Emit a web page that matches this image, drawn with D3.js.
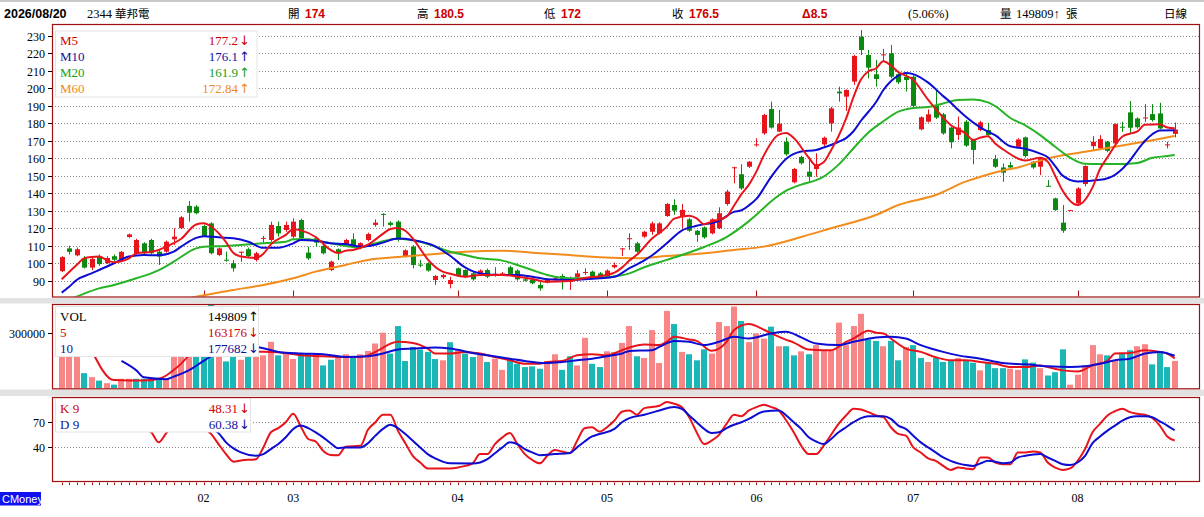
<!DOCTYPE html>
<html>
<head>
<meta charset="utf-8">
<script src="https://cdn.jsdelivr.net/npm/d3@7"></script>
<style>
body { margin: 0; background: #fff; overflow: hidden; }
svg { display: block; }
</style>
</head>
<body>
<svg width="1204" height="517"></svg>
<script>
// daily candles, 2344 華邦電
const opens = [
  95.5, 108.5, 104.5, 103, 97.5, 104, 100, 104, 102, 115,
  105.7, 111.4, 113.3, 106.6, 106.6, 113.7, 120, 132.8, 132.4, 121.3,
  122.8, 104.7, 102, 100, 106, 108, 101.9, 114, 113.3, 121.3,
  119, 115.2, 124.7, 106.1, 114.3, 109.9, 96.1, 108, 111, 113.7,
  109, 113.3, 121.9, 128.2, 123.2, 123.8, 103.8, 109.5, 99.2, 100,
  90.4, 92, 88.1, 97.1, 96.1, 94.2, 93.9, 96.1, 93, 93.5,
  97.7, 95.8, 90.8, 90.4, 87.6, 88.9, 90.4, 92.7, 89.5, 92,
  94.5, 95.2, 94.2, 92.3, 97.7, 108.3, 114, 111.4, 115.2, 118,
  117.1, 127, 133.3, 126.7, 125.1, 118.6, 120.5, 117.1, 120, 133.9,
  154.6, 150.9, 155.2, 167.8, 174.3, 188.2, 175.3, 169.5, 146.3, 160.8,
  152.4, 153.9, 168, 180, 198.2, 195.3, 203.9, 229.6, 219.1, 208.1,
  219.3, 220.1, 208.1, 206.7, 206.7, 176.6, 181, 190.5, 185.2, 177.6,
  173.4, 181, 170.5, 176.2, 176.2, 159.6, 154.8, 156.1, 166.6, 172,
  158, 155.2, 144.3, 137.1, 123.2, 130.3, 134.2, 145.3, 167, 165.7,
  169.5, 168.5, 178.1, 186.3, 182.8, 183.2, 185.3, 185.7, 167.4, 174
]
const highs = [
  104, 110, 109, 104, 104, 105, 104, 105, 107, 117,
  114, 112, 114, 107.5, 113, 120, 127, 135.6, 133.3, 122,
  123.5, 109, 106.6, 101.9, 106.6, 109, 106.5, 115.6, 123.8, 123.8,
  123.8, 125.7, 125.5, 109.5, 115.2, 110.5, 101.5, 108.5, 114, 117.1,
  112, 117.5, 125.1, 128.6, 124, 124.5, 108, 110.4, 101.9, 100.5,
  93.3, 94, 92.3, 97.5, 96.5, 95, 96.5, 97, 97.7, 95,
  98.5, 96.5, 91.5, 91, 89.5, 91, 92, 93.9, 92.3, 96.1,
  97.1, 95.8, 95, 96.5, 100.4, 108.6, 117.1, 112.3, 118.5, 123.8,
  123.5, 134.5, 136.6, 133.9, 126, 119, 121, 125.7, 132, 142,
  155.2, 156.6, 158.5, 171.5, 185.5, 192.4, 187.7, 172, 154.5, 161.5,
  159.1, 162.9, 172.5, 189.5, 201, 199.5, 219.2, 233.4, 222, 216.3,
  222.6, 224.9, 209, 208.6, 207.5, 184, 188, 199.1, 186, 178,
  183.9, 182, 171, 181.5, 180.4, 161.9, 157.1, 158, 171.5, 172.5,
  158.5, 160.3, 147.6, 137.5, 133.3, 130.5, 143.5, 156, 172.7, 173.3,
  170, 180, 180.9, 192.8, 183.5, 191, 191, 191.8, 169.5, 180.5
]
const lows = [
  95, 105, 104, 97, 96, 98.5, 99.5, 101, 101.5, 114.5,
  105, 105, 105, 99, 106, 110.4, 119.5, 123.8, 128, 115,
  105, 104, 100.9, 95.2, 100.9, 103.5, 101, 111.4, 112.3, 115.2,
  118, 114.3, 113.5, 101.9, 109.5, 105, 95.5, 101.9, 110.5, 109.5,
  108, 112.5, 120.9, 121, 121, 112.5, 103.4, 97.1, 97.7, 95.2,
  87.6, 91, 85.6, 92.5, 91.5, 90, 93, 91.5, 92.3, 93,
  93, 90, 89.5, 88, 84.3, 88.5, 90, 85, 84.7, 91.5,
  93.3, 92, 91.5, 92, 97, 104.1, 107.6, 106, 114.5, 116.2,
  116.5, 126.5, 127.6, 120, 118, 112.3, 114, 116.5, 119.5, 133,
  145.7, 142, 154.5, 166.7, 173.5, 177, 175, 161.5, 145.7, 156.5,
  146.7, 149.5, 167, 175.3, 192.4, 187.1, 202, 219.1, 205.8, 201,
  215.3, 205.8, 202.5, 198.2, 189, 176, 180.5, 182.5, 173.5, 165.7,
  170.5, 166.5, 156.6, 175.5, 172.5, 154.5, 146.6, 153.3, 166, 160.5,
  154, 150.4, 144.1, 130, 117.4, 130.2, 133.5, 144, 164.7, 165,
  163.5, 168, 175.2, 174.3, 177, 180.9, 181, 176.5, 165.7, 172
]
const closes = [
  103.5, 106.5, 108, 97.5, 102.5, 99.5, 103, 102, 106.5, 116.5,
  113.3, 105.7, 105.7, 103.8, 112.3, 115.2, 126.3, 128.9, 128.6, 115.6,
  105.7, 108.5, 101.9, 97.1, 106.6, 104.1, 105.7, 114.5, 121.9, 117.1,
  121.9, 123.8, 114.3, 102.8, 111.8, 105.7, 100.9, 106.1, 113.3, 110.4,
  111.5, 116.7, 123.2, 128, 121.9, 113.3, 107.4, 99, 99, 95.8,
  92.7, 93.3, 90.4, 93.3, 92.3, 90.8, 95.8, 92.3, 94, 94.2,
  93.9, 90.8, 90, 88.5, 85.6, 90.4, 91.4, 90.8, 89.9, 94.2,
  95, 92.3, 92, 95.8, 99, 108.5, 114.3, 106.6, 118, 122.8,
  122.8, 133.9, 130.1, 130.5, 118.6, 116.2, 114.8, 125.1, 128.6, 141,
  154.9, 142.8, 158.1, 168, 184.8, 177.6, 179.8, 162.3, 153.9, 157.2,
  149.5, 156.6, 171.8, 188.6, 197.2, 199.1, 218.6, 222, 211.9, 205.4,
  219.5, 206.7, 203.5, 204.8, 190, 183.5, 185.2, 183.3, 174.3, 169.2,
  177.6, 167.3, 164.8, 180.6, 173.4, 155.2, 151.8, 154.8, 170.8, 161.3,
  154.8, 159.6, 144.1, 130.4, 118.6, 130.4, 142.8, 155.6, 169.5, 171,
  164.3, 179.6, 178, 177.5, 177.8, 183.4, 181.9, 177.1, 168, 176.5
]
const volumes = [
  300000, 300000, 290000, 83000, 61000, 42000, 28000, 20000, 52000, 52000,
  52000, 52000, 52000, 52000, 52000, 270000, 260000, 266000, 320000, 330000,
  456000, 220000, 147000, 200000, 156000, 190000, 200000, 180000, 254000, 180000,
  193000, 160000, 190000, 190000, 190000, 125000, 156000, 167000, 186000, 171000,
  186000, 204000, 245000, 304000, 190000, 340000, 149000, 226000, 212000, 199000,
  160000, 153000, 252000, 208000, 190000, 171000, 190000, 144000, 162000, 101000,
  156000, 134000, 116000, 120000, 107000, 149000, 186000, 101000, 175000, 125000,
  276000, 134000, 116000, 202000, 199000, 248000, 340000, 175000, 166000, 318000,
  138000, 423000, 351000, 199000, 186000, 153000, 213000, 190000, 362000, 340000,
  447000, 368000, 252000, 300000, 272000, 337000, 230000, 230000, 180000, 202000,
  186000, 236000, 208000, 208000, 359000, 236000, 340000, 407000, 267000, 259000,
  230000, 259000, 153000, 226000, 236000, 166000, 144000, 166000, 144000, 153000,
  166000, 153000, 140000, 98000, 138000, 110000, 110000, 107000, 101000, 158000,
  140000, 110000, 70000, 88000, 213000, 20000, 75000, 125000, 236000, 186000,
  180000, 153000, 193000, 208000, 230000, 241000, 131000, 193000, 116000, 149809
]

// moving averages: [candle index, value]
const ma5 = [[0, 90.8], [2, 99], [3, 102.8], [4, 103.6], [5, 103.8], [6, 101.9], [7, 100.6], [9, 102.8], [10, 105.7], [12, 106.6], [13, 107.6], [14, 109.5], [16, 114], [18, 122.2], [19, 122.9], [20, 121], [22, 112.1], [23, 105.8], [24, 103.8], [26, 103], [27, 105.4], [28, 110.8], [30, 116.2], [31, 119.4], [32, 118.8], [34, 115], [36, 107.6], [37, 105.8], [38, 107.2], [39, 107.6], [41, 110.6], [43, 116.8], [44, 119.6], [45, 120.2], [46, 118.6], [47, 114.2], [48, 108.2], [49, 102.2], [51, 95.2], [52, 94], [54, 92.3], [56, 93.3], [59, 93.3], [61, 92.3], [63, 91], [65, 89.4], [68, 89.8], [70, 91.6], [72, 92.6], [74, 94.6], [75, 97.5], [76, 101.5], [77, 104.8], [79, 114], [81, 120.8], [82, 125.5], [84, 127.2], [85, 125.7], [86, 122.3], [87, 123.8], [89, 126.7], [90, 132.9], [91, 139.5], [92, 145], [93, 152.4], [94, 161.7], [96, 173.6], [97, 174.5], [98, 171.6], [100, 160.5], [101, 155.9], [102, 157.8], [103, 164.7], [104, 172.7], [105, 182.7], [106, 195.1], [107, 205.1], [108, 209.8], [109, 211.4], [110, 215.5], [111, 213.1], [112, 209.4], [114, 204.9], [116, 193.4], [118, 183.3], [119, 179.1], [121, 174.3], [122, 170.6], [123, 171.9], [124, 172.7], [125, 168.3], [126, 165.2], [129, 158.8], [131, 160.3], [132, 158.1], [133, 150], [134, 141.5], [136, 133.3], [138, 143.4], [139, 153.9], [140, 160.6], [142, 172.5], [143, 174.1], [144, 175.4], [145, 179.2], [147, 179.5], [148, 177.6], [149, 177.2]]
const ma10 = [[0, 83.2], [1, 86.6], [2, 90.4], [4, 94.2], [6, 98], [7, 100], [9, 103.8], [11, 104.7], [13, 104.5], [15, 106.6], [16, 109.5], [18, 114.5], [19, 115.5], [21, 114.8], [23, 114.3], [25, 112.3], [27, 108.8], [29, 108.8], [31, 111.4], [32, 113.3], [34, 112.9], [36, 111.4], [38, 111], [40, 109.5], [41, 109.8], [43, 111.8], [45, 114.1], [47, 113.3], [48, 112.4], [50, 109.7], [52, 104.3], [54, 97.6], [56, 94.2], [59, 93.3], [61, 93.3], [63, 92.3], [65, 90.8], [68, 90.4], [70, 90.8], [72, 91.4], [74, 92.3], [76, 97.2], [78, 101.6], [79, 104.4], [81, 111.4], [83, 118.7], [85, 121.4], [88, 124.3], [90, 129.4], [91, 130.3], [92, 133.1], [93, 136.8], [95, 149.6], [97, 159.8], [99, 163.9], [101, 164.8], [102, 166.2], [104, 169.5], [105, 171.6], [106, 175.5], [107, 181.5], [109, 192.1], [110, 199.1], [111, 204.1], [112, 207.3], [113, 208.9], [114, 208.2], [116, 203.3], [118, 195.6], [119, 192], [120, 187.8], [121, 183.9], [123, 177.6], [125, 173.1], [127, 166.9], [129, 165.5], [131, 162.7], [132, 160.6], [133, 155.6], [134, 150.1], [136, 146.8], [139, 147.7], [141, 150.6], [143, 158.7], [144, 164.6], [145, 169.9], [146, 173.8], [147, 176], [149, 176.1]]
const ma20 = [[0, 77.5], [2, 80.9], [5, 85.6], [7, 87.6], [10, 91.4], [13, 96.1], [15, 100.9], [18, 108.5], [19, 109.5], [22, 109.9], [24, 110.4], [27, 111.4], [30, 112.3], [31, 113.7], [33, 113.7], [35, 112.3], [38, 109.9], [40, 109.1], [42, 111.4], [45, 114], [48, 112.3], [52, 106.6], [54, 104.7], [56, 102.8], [59, 101.5], [61, 99], [63, 96.1], [65, 93.3], [68, 91.4], [70, 91.4], [73, 92], [76, 94.2], [78, 97.7], [81, 101.9], [83, 104.7], [86, 109.3], [89, 115], [92, 124.1], [93, 127.7], [95, 135.5], [97, 141.5], [99, 145], [101, 147.5], [102, 149.6], [104, 156.4], [106, 165.8], [108, 174.8], [110, 181.2], [112, 186.7], [114, 188.8], [116, 189.4], [118, 191.4], [120, 193.4], [122, 193.6], [124, 192], [125, 189.8], [127, 183.1], [129, 178.9], [131, 173.3], [133, 166.6], [135, 160.4], [137, 156.9], [139, 156.7], [141, 156.7], [144, 157.4], [146, 160.3], [148, 161.3], [149, 161.9]]
const ma60 = [[14, 77.5], [18, 80.9], [23, 84.7], [27, 87.6], [31, 91.4], [34, 95.2], [38, 99], [41, 101.9], [45, 103.5], [50, 105.3], [54, 106.6], [59, 107.2], [63, 106], [68, 104.7], [72, 103.4], [77, 102.8], [81, 104.1], [85, 105.3], [90, 107.6], [94, 109.5], [99, 115], [103, 120], [109, 127.6], [112, 133.3], [117, 139], [121, 146.7], [123, 149.5], [126, 153], [128, 154.8], [132, 160], [137, 163.8], [141, 166.6], [146, 170.4], [149, 172.84]]

const vol5 = [[4, 208000], [7, 45000], [11, 42000], [13, 52000], [14, 70000], [15, 100000], [16, 135000], [17, 180000], [18, 234000], [20, 326000], [22, 295000], [24, 236000], [26, 200000], [28, 199000], [30, 193000], [32, 180000], [35, 175000], [37, 171000], [40, 171000], [41, 180000], [42, 199000], [45, 254000], [47, 248000], [49, 217000], [50, 190000], [52, 190000], [54, 199000], [56, 190000], [58, 171000], [60, 153000], [62, 134000], [64, 134000], [65, 144000], [67, 149000], [69, 180000], [71, 186000], [73, 180000], [75, 208000], [76, 223000], [78, 240000], [80, 236000], [81, 254000], [82, 282000], [84, 267000], [85, 259000], [87, 205000], [89, 254000], [90, 318000], [92, 351000], [94, 320000], [95, 300000], [97, 265000], [98, 250000], [100, 212000], [102, 208000], [103, 208000], [105, 254000], [106, 272000], [108, 315000], [109, 304000], [110, 300000], [111, 272000], [113, 217000], [115, 199000], [117, 170000], [119, 153000], [121, 153000], [123, 144000], [125, 134000], [127, 116000], [129, 116000], [131, 125000], [132, 116000], [134, 98000], [136, 92000], [138, 125000], [140, 150000], [141, 190000], [143, 193000], [145, 208000], [147, 199000], [148, 190000], [149, 163176]]
const vol10 = [[8, 150000], [10, 98000], [11, 60000], [14, 50000], [15, 64000], [17, 98000], [19, 150000], [21, 200000], [23, 230000], [26, 226000], [29, 199000], [32, 190000], [35, 186000], [38, 171000], [41, 175000], [43, 190000], [45, 212000], [47, 217000], [50, 223000], [52, 217000], [55, 193000], [57, 180000], [60, 162000], [62, 149000], [65, 138000], [67, 144000], [69, 153000], [71, 162000], [73, 175000], [75, 190000], [76, 204000], [79, 208000], [80, 226000], [82, 259000], [84, 254000], [86, 236000], [88, 254000], [90, 282000], [92, 272000], [95, 300000], [97, 309000], [99, 278000], [101, 245000], [104, 236000], [106, 254000], [109, 278000], [111, 282000], [113, 272000], [115, 236000], [118, 199000], [120, 180000], [123, 162000], [126, 138000], [129, 131000], [132, 120000], [135, 116000], [137, 120000], [139, 134000], [141, 153000], [143, 162000], [145, 190000], [147, 199000], [149, 177682]]

const kLine = [[0, 72], [2, 78], [4, 75], [6, 70], [8, 66], [10, 68], [11, 63], [12, 58], [13, 46], [14, 57], [15, 66], [17, 74], [18, 76], [19, 64], [20, 56], [21, 44], [22, 32], [23, 23], [24, 24.5], [26, 26], [27, 40], [28, 58], [29, 63], [30, 70], [31, 80], [32, 65], [33, 50], [34, 47], [35, 36], [36, 31], [37, 30.8], [38, 40.8], [40, 42], [41, 61], [42, 70], [43, 78.8], [44, 78.8], [45, 60], [46, 45], [47, 30], [48, 22], [49, 15], [52, 15], [54, 18], [55, 21], [56, 32], [57, 32], [58, 44], [59, 52], [60, 57], [61, 44], [62, 32], [63, 25], [64, 21], [65, 30], [66, 37], [67, 35], [68, 33], [69, 48], [70, 62.8], [71, 64], [72, 58.8], [73, 64], [74, 72], [75, 82.5], [76, 84], [77, 79], [78, 86.8], [80, 89.5], [81, 94], [82, 92], [83, 88], [84, 76], [85, 58], [86, 44], [87, 48], [88, 55], [89, 68], [90, 78.8], [91, 77.2], [92, 84], [93, 88], [94, 90.8], [95, 88], [96, 84], [97, 72], [98, 58], [99, 42], [100, 32], [101, 32], [102, 42], [103, 55], [104, 68], [105, 78], [106, 86], [107, 85], [108, 82], [109, 78], [110, 76], [111, 64], [112, 56], [113, 54], [114, 40], [115, 34], [116, 27], [117, 24], [118, 18], [119, 13.2], [120, 16], [121, 15], [122, 14], [123, 28], [124, 28], [125, 22], [126, 20], [127, 20], [128, 34], [129, 34], [130, 35], [131, 34], [132, 22], [133, 16], [134, 13.2], [135, 15], [136, 24], [137, 38], [138, 58], [139, 68], [140, 78], [141, 83], [142, 86], [143, 82], [144, 80], [145, 78.8], [146, 75], [147, 66], [148, 53], [149, 48.31]]
const dLine = [[0, 70], [4, 72], [8, 70], [12, 67], [14, 63], [16, 64], [18, 68], [19, 67], [20, 63], [21, 57], [22, 46], [23, 38.8], [24, 34], [26, 30], [27, 32], [28, 38], [29, 44], [30, 52], [31, 62], [32, 66], [33, 63], [34, 58], [35, 52], [36, 45], [37, 39], [38, 40], [40, 40], [41, 45], [42, 54], [43, 62], [44, 67], [45, 63], [46, 56], [47, 48], [48, 40], [49, 32], [50, 27], [52, 21], [55, 20.8], [57, 26], [58, 33], [59, 40], [60, 46], [61, 44], [62, 38], [63, 34], [64, 30.8], [66, 32], [68, 33.2], [69, 40], [70, 47], [71, 53], [72, 56], [74, 62], [75, 70], [76, 74.8], [78, 78.8], [80, 84], [82, 88], [83, 86], [84, 78], [85, 70], [86, 62], [87, 57.2], [88, 58], [89, 63], [90, 67], [91, 70], [92, 74], [94, 82.8], [96, 84], [97, 78], [98, 70], [99, 62], [100, 52], [101, 47], [102, 44], [103, 50], [104, 58], [105, 64], [106, 70], [107, 74.8], [108, 77], [110, 77], [111, 74], [112, 66], [113, 62], [114, 54], [115, 46], [116, 40], [117, 34], [118, 28], [119, 24], [120, 21], [121, 19], [122, 18], [123, 21], [124, 24], [125, 23], [126, 21.2], [127, 22], [128, 28], [129, 30], [131, 32], [132, 28], [133, 24], [134, 20], [135, 19], [136, 22], [137, 30], [138, 45], [139, 53], [140, 60], [141, 66], [142, 72], [143, 76], [144, 77.2], [145, 77], [146, 76], [147, 71], [148, 66], [149, 60.38]]

const monthLabels = ['02', '03', '04', '05', '06', '07', '08']
const monthStarts = [19, 31, 53, 73, 93, 114, 136]
const priceTicks = [90, 100, 110, 120, 130, 140, 150, 160, 170, 180, 190, 200, 210, 220, 230]
const volTicks = [300000]
const kdTicks = [40, 70]

const serif = '"Liberation Serif", "DejaVu Serif", serif'
const sans = '"Liberation Sans", Arial, sans-serif'
const cjk = '"Noto Sans CJK TC", "Noto Sans CJK SC", sans-serif'
const RED = '#e8141c', GREEN = '#0c8a10', BLUE = '#0c0cd2', LIME = '#26b426', ORANGE = '#f28c1c'
const PINK = '#f98686', CYAN = '#1bb6b6', FRAME = '#a01010'

const left = 52, right = 1200
const mainTop = 24, mainBottom = 296.5
const volTop = 304, volBottom = 388.3
const kdTop = 397, kdBottom = 481

const svg = d3.select('svg')

const x = d3.scaleBand().domain(d3.range(closes.length)).range([57.2, 1179.2]).padding(0.2)
const cx = i => x(i) + x.bandwidth() / 2
const y = d3.scaleLinear().domain([80.97, 236.86]).range([mainBottom, mainTop])
const yVol = d3.scaleLinear().domain([0, 460700]).range([volBottom, volTop])
const yKd = d3.scaleLinear().domain([0, 100]).range([kdBottom, kdTop])

svg.append('rect').attr('width', 1204).attr('height', 517).attr('fill', '#fff')
svg.append('rect').attr('x', 0).attr('y', 0).attr('width', 1204).attr('height', 2).attr('fill', '#c8c8c8')
svg.append('rect').attr('x', 0).attr('y', 298).attr('width', 1204).attr('height', 5.5).attr('fill', '#e2e2e2')
svg.append('rect').attr('x', 0).attr('y', 389.5).attr('width', 1204).attr('height', 6.5).attr('fill', '#e2e2e2')

const defs = svg.append('defs')
const clip = (id, top, bottom) => defs.append('clipPath').attr('id', id)
  .append('rect').attr('x', left).attr('y', top).attr('width', right - left).attr('height', bottom - top)
clip('clipMain', mainTop, mainBottom)
clip('clipVol', volTop, volBottom)
clip('clipKd', kdTop, kdBottom)

// header
const header = svg.append('g').attr('font-size', 12)
const txt = (g, px, py, s, opt = {}) => g.append('text')
  .attr('x', px).attr('y', py)
  .attr('font-family', opt.family || serif)
  .attr('font-weight', opt.bold ? 'bold' : null)
  .attr('font-size', opt.size || null)
  .attr('fill', opt.color || '#000')
  .attr('text-anchor', opt.anchor || 'start')
  .text(s)

txt(header, 4, 18, '2026/08/20', { family: sans, bold: true, size: 12.5 })
txt(header, 87, 18, '2344', { size: 12.5 })
txt(header, 115, 18, '華邦電', { family: cjk, size: 11.5 })
const quote = [
  ['開', '174', 288], ['高', '180.5', 417], ['低', '172', 544], ['收', '176.5', 672]
]
quote.forEach(q => {
  txt(header, q[2], 18, q[0], { family: cjk, size: 11.5 })
  txt(header, q[2] + 17, 18, q[1], { family: sans, bold: true, color: '#cc0000' })
})
txt(header, 802, 18, 'Δ8.5', { family: sans, bold: true, color: '#cc0000' })
txt(header, 908, 18, '(5.06%)', { size: 12.5 })
txt(header, 1000, 18, '量', { family: cjk, size: 11.5 })
txt(header, 1016, 18, '149809↑', { size: 12.5 })
txt(header, 1066, 18, '張', { family: cjk, size: 11.5 })
txt(header, 1164, 18, '日線', { family: cjk, size: 11.5 })

// grid + axes of one panel
function grid (ticks, scale, fmt) {
  const g = svg.append('g')
  ticks.forEach(t => {
    const py = Math.round(scale(t)) + 0.5
    g.append('line').attr('x1', left).attr('x2', right).attr('y1', py).attr('y2', py)
      .attr('stroke', '#8a8a8a').attr('stroke-dasharray', '1,2')
    g.append('line').attr('x1', left - 4).attr('x2', left).attr('y1', py).attr('y2', py)
      .attr('stroke', '#000')
    txt(g, 45, py + 4, fmt(t), { size: 12, anchor: 'end' })
  })
}
grid(priceTicks, y, d => d)
grid(volTicks, yVol, d => d)
grid(kdTicks, yKd, d => d)

// month marks at the bottom of the price panel
monthStarts.forEach(m => {
  const px = Math.round(cx(m)) + 0.5
  svg.append('line').attr('x1', px).attr('x2', px).attr('y1', mainBottom - 6).attr('y2', mainBottom)
    .attr('stroke', FRAME)
})

// candles
const main = svg.append('g').attr('clip-path', 'url(#clipMain)')
const bars = closes.map((c, i) => ({ i, o: opens[i], h: highs[i], l: lows[i], c }))
const candles = main.selectAll('g.k').data(bars).enter().append('g').attr('class', 'k')
  .attr('fill', d => d.c >= d.o ? RED : GREEN)
  .attr('stroke', d => d.c >= d.o ? RED : GREEN)
candles.append('line')
  .attr('x1', d => Math.round(cx(d.i)) + 0.5).attr('x2', d => Math.round(cx(d.i)) + 0.5)
  .attr('y1', d => y(d.h)).attr('y2', d => y(d.l))
  .attr('stroke-width', 1)
candles.append('rect')
  .attr('x', d => Math.round(cx(d.i)) - 2)
  .attr('width', 5)
  .attr('y', d => y(Math.max(d.o, d.c)))
  .attr('height', d => Math.max(1, Math.abs(y(d.o) - y(d.c))))
  .attr('stroke', 'none')

const line = scale => d3.line().x(d => cx(d[0])).y(d => scale(d[1])).curve(d3.curveMonotoneX)
const maSeries = [[ma60, ORANGE], [ma20, LIME], [ma10, BLUE], [ma5, RED]]
maSeries.forEach(s => {
  main.append('path').datum(s[0]).attr('d', line(y))
    .attr('fill', 'none').attr('stroke', s[1]).attr('stroke-width', 2)
})

// volume
const vol = svg.append('g').attr('clip-path', 'url(#clipVol)')
vol.selectAll('rect').data(volumes).enter().append('rect')
  .attr('x', (d, i) => Math.round(cx(i)) - 3)
  .attr('width', 6)
  .attr('y', d => yVol(d))
  .attr('height', d => volBottom - yVol(d))
  .attr('fill', (d, i) => {
    const prev = i > 0 ? closes[i - 1] : opens[0]
    const up = closes[i] > prev || (closes[i] === prev && closes[i] >= opens[i])
    return up ? PINK : CYAN
  })
vol.append('path').datum(vol5).attr('d', line(yVol)).attr('fill', 'none').attr('stroke', RED).attr('stroke-width', 2)
vol.append('path').datum(vol10).attr('d', line(yVol)).attr('fill', 'none').attr('stroke', BLUE).attr('stroke-width', 2)

// KD
const kd = svg.append('g').attr('clip-path', 'url(#clipKd)')
kd.append('path').datum(kLine).attr('d', line(yKd)).attr('fill', 'none').attr('stroke', RED).attr('stroke-width', 2)
kd.append('path').datum(dLine).attr('d', line(yKd)).attr('fill', 'none').attr('stroke', BLUE).attr('stroke-width', 2)

// legends
function legend (box, rows) {
  const g = svg.append('g')
  g.append('rect').attr('x', box[0] + 0.5).attr('y', box[1] + 0.5)
    .attr('width', box[2] - box[0]).attr('height', box[3] - box[1])
    .attr('fill', '#fff').attr('stroke', '#e4e4e4')
  rows.forEach(r => {
    txt(g, box[0] + 5, r.y, r.name, { size: 13, color: r.color })
    txt(g, r.end, r.y, r.value, { size: 13, color: r.color, anchor: 'end' })
    txt(g, r.end + 1, r.y, r.arrow, { size: 13, color: r.color, family: '"DejaVu Sans", sans-serif' })
  })
}
legend([55, 30.5, 256.5, 96.5], [
  { name: 'M5', value: '177.2', arrow: '↓', color: '#d00000', y: 44.5, end: 238 },
  { name: 'M10', value: '176.1', arrow: '↑', color: '#10109a', y: 61, end: 238 },
  { name: 'M20', value: '161.9', arrow: '↑', color: '#18a018', y: 77, end: 238 },
  { name: 'M60', value: '172.84', arrow: '↑', color: '#ee8a22', y: 93, end: 238 }
])
legend([55, 306, 258, 356], [
  { name: 'VOL', value: '149809', arrow: '↑', color: '#000', y: 320.5, end: 247 },
  { name: '5', value: '163176', arrow: '↓', color: '#d00000', y: 337, end: 247 },
  { name: '10', value: '177682', arrow: '↓', color: '#10109a', y: 352.5, end: 247 }
])
legend([55, 397.5, 250, 431.5], [
  { name: 'K 9', value: '48.31', arrow: '↓', color: '#d00000', y: 412.5, end: 238 },
  { name: 'D 9', value: '60.38', arrow: '↓', color: '#10109a', y: 429, end: 238 }
])

// panel frames
;[[mainTop, mainBottom], [volTop, volBottom], [kdTop, kdBottom]].forEach(p => {
  svg.append('rect').attr('x', left + 0.5).attr('y', p[0] + 0.5)
    .attr('width', right - left - 1).attr('height', p[1] - p[0])
    .attr('fill', 'none').attr('stroke', FRAME).attr('stroke-width', 1.2)
})

// day ticks and month labels
const axis = svg.append('g')
closes.forEach((c, i) => {
  const px = Math.round(cx(i)) + 0.5
  axis.append('line').attr('x1', px).attr('x2', px).attr('y1', kdBottom + 1.5).attr('y2', kdBottom + 4)
    .attr('stroke', FRAME)
})
monthStarts.forEach((m, j) => {
  txt(axis, cx(m), 502, monthLabels[j], { size: 12, anchor: 'middle' })
})

// CMoney tag
svg.append('rect').attr('x', 0).attr('y', 492).attr('width', 41).attr('height', 13.5).attr('fill', '#1010f0')
txt(svg, 2, 503, 'CMoney', { family: sans, size: 11, color: '#fff' })
</script>
</body>
</html>
